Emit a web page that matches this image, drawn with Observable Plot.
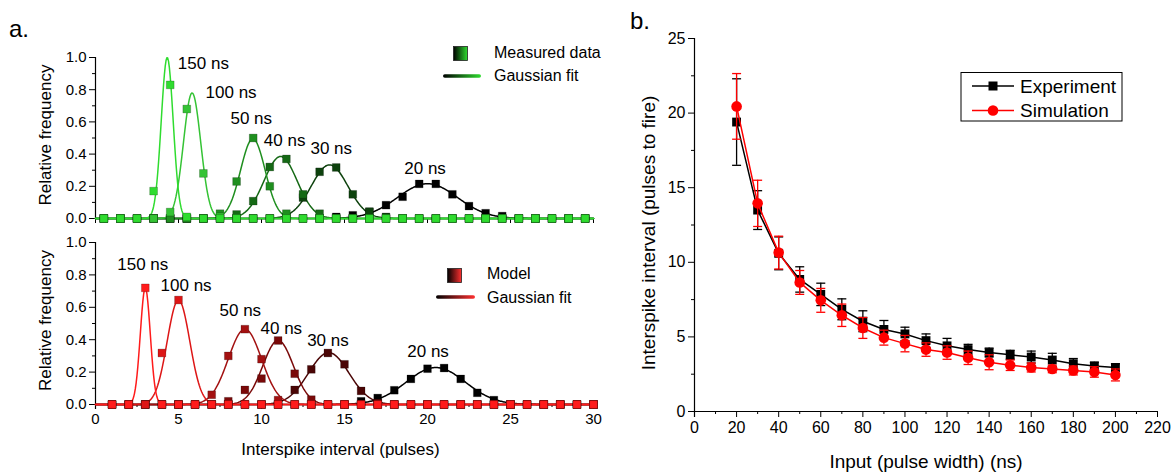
<!DOCTYPE html>
<html><head><meta charset="utf-8">
<script src="https://cdn.jsdelivr.net/npm/d3@7"></script>
<script src="https://cdn.jsdelivr.net/npm/@observablehq/plot@0.6"></script>
<style>
body{margin:0;background:#fff;font-family:"Liberation Sans",Arial,sans-serif;}
#wrap{position:relative;width:1173px;height:472px;overflow:hidden;background:#fff}
.pl{position:absolute;font-family:"Liberation Sans",Arial,sans-serif;color:#000}
</style></head><body><div id="wrap"></div>
<script>
// ---------- DATA ----------
const seriesNames = ["20 ns","30 ns","40 ns","50 ns","100 ns","150 ns"];

// panel a (top): measured histograms, bin centres
const measuredBins = [0.5,1.5,2.5,3.5,4.5,5.5,6.5,7.5,8.5,9.5,10.5,11.5,12.5,13.5,14.5,15.5,16.5,17.5,18.5,19.5,20.5,21.5,22.5,23.5,24.5,25.5,26.5,27.5,28.5,29.5];
const measured20  = [0,0,0,0,0,0,0,0,0,0, 0,0,0,0,0.01,0.02,0.04,0.083,0.135,0.215, 0.215,0.15,0.077,0.033,0.015,0,0,0,0,0];
const measured30  = [0,0,0,0,0,0,0,0,0,0, 0,0.01,0.13,0.29,0.317,0.15,0.043,0.01,0,0, 0,0,0,0,0,0,0,0,0,0];
const measured40  = [0,0,0,0,0,0,0,0,0.025,0.108, 0.32,0.37,0.15,0.03,0,0,0,0,0,0, 0,0,0,0,0,0,0,0,0,0];
const measured50  = [0,0,0,0,0,0,0,0.03,0.23,0.5, 0.2,0.03,0,0,0,0,0,0,0,0, 0,0,0,0,0,0,0,0,0,0];
const measured100 = [0,0,0,0,0.04,0.68,0.28,0.01,0,0, 0,0,0,0,0,0,0,0,0,0, 0,0,0,0,0,0,0,0,0,0];
const measured150 = [0,0,0,0.17,0.83,0.01,0,0,0,0, 0,0,0,0,0,0,0,0,0,0, 0,0,0,0,0,0,0,0,0,0];
// Gaussian fit parameters (order of seriesNames)
const measuredFitCenter = [20.0, 14.1, 11.15, 9.48, 5.82, 4.32];
const measuredFitSigma  = [1.8, 1.1, 1.0, 0.74, 0.52, 0.36];
const measuredFitPeak   = [0.216, 0.333, 0.385, 0.495, 0.78, 1.0];

// panel a (bottom): model histograms
const modelBins = [1,2,3,4,5,6,7,8,9,10,11,12,13,14,15,16,17,18,19,20,21,22,23,24,25,26,27,28,29,30];
const model20  = [0,0,0,0,0,0,0,0,0,0, 0,0,0,0,0,0.02,0.04,0.088,0.158,0.221, 0.225,0.158,0.072,0.027,0,0,0,0,0,0];
const model30  = [0,0,0,0,0,0,0,0,0,0, 0,0.09,0.217,0.318,0.248,0.084,0.01,0,0,0, 0,0,0,0,0,0,0,0,0,0];
const model40  = [0,0,0,0,0,0,0,0.02,0.09,0.16, 0.395,0.19,0.03,0,0,0,0,0,0,0, 0,0,0,0,0,0,0,0,0,0];
const model50  = [0,0,0,0,0,0,0.06,0.3,0.465,0.28, 0.027,0,0,0,0,0,0,0,0,0, 0,0,0,0,0,0,0,0,0,0];
const model100 = [0,0,0,0.318,0.645,0,0,0,0,0, 0,0,0,0,0,0,0,0,0,0, 0,0,0,0,0,0,0,0,0,0];
const model150 = [0,0,0.72,0,0,0,0,0,0,0, 0,0,0,0,0,0,0,0,0,0, 0,0,0,0,0,0,0,0,0,0];
const modelFitCenter = [20.5, 14.05, 11.0, 9.0, 5.0, 3.0];
const modelFitSigma  = [1.78, 1.22, 0.92, 1.0, 0.68, 0.3];
const modelFitPeak   = [0.228, 0.32, 0.395, 0.465, 0.645, 0.72];

const freqTicks = [0, 0.2, 0.4, 0.6, 0.8, 1.0];
const freqMinorTicks = [0.1, 0.3, 0.5, 0.7, 0.9];
const pulseTicks = [0, 5, 10, 15, 20, 25, 30];
const pulseMinorTicks = [2.5, 7.5, 12.5, 17.5, 22.5, 27.5];

// panel b
const pulseWidth = [20,30,40,50,60,70,80,90,100,110,120,130,140,150,160,170,180,190,200];
const experiment    = [19.4,13.5,10.6,8.85,7.85,6.85,6.05,5.5,5.2,4.75,4.4,4.15,3.95,3.8,3.65,3.45,3.2,3.05,2.95];
const experimentErr = [2.9,1.3,1.1,0.85,0.75,0.7,0.7,0.6,0.45,0.45,0.5,0.35,0.3,0.3,0.4,0.45,0.35,0.25,0.25];
const simulation    = [20.45,13.95,10.65,8.65,7.45,6.45,5.6,4.95,4.55,4.15,3.95,3.6,3.3,3.1,2.95,2.85,2.75,2.65,2.45];
const simulationErr = [2.2,1.55,1.1,0.8,0.8,0.75,0.7,0.5,0.55,0.45,0.45,0.45,0.5,0.35,0.3,0.25,0.3,0.35,0.4];
const isiTicks = [0,5,10,15,20,25];
const isiMinorTicks = [2.5,7.5,12.5,17.5,22.5];
const widthTicks = [0,20,40,60,80,100,120,140,160,180,200,220];
const widthMinorTicks = [10,30,50,70,90,110,130,150,170,190,210];

// ---------- STYLE ----------
const FONT = '"Liberation Sans", Arial, sans-serif';
const greens = ["#000000","#0d420d","#156915","#1f8f1f","#35c335","#2fdc2f"];
const reds   = ["#000000","#4a0505","#7a0909","#a31111","#dd1616","#ff1b1b"];

const wrap = document.getElementById("wrap");
function place(el, left, top){ el.classList.add("pl"); el.style.left = left+"px"; el.style.top = top+"px"; wrap.appendChild(el); }

const fitGrid = d3.range(0, 30.0001, 0.05);

function histPanel(o){
  const rows = [];
  o.series.forEach((vals, k) => vals.forEach((v, i) => rows.push({s: seriesNames[k], x: o.bins[i], y: v})));
  const curves = [];
  seriesNames.forEach((s, k) => fitGrid.forEach(x => curves.push({s, x,
    y: o.peak[k] * Math.exp(-((x - o.center[k]) ** 2) / (2 * o.sigma[k] ** 2))})));
  const marks = [
    Plot.axisY({ticks: freqTicks, tickFormat: d => d.toFixed(1), tickSize: 6, tickPadding: 3, fontSize: 15, label: null}),
    Plot.axisY({ticks: freqMinorTicks, tickFormat: () => "", tickSize: 3, label: null}),
    Plot.axisX({ticks: pulseTicks, tickSize: 5, tickPadding: 4, fontSize: 15, label: null, tickFormat: o.xLabels ? d => String(d) : () => ""}),
    Plot.axisX({ticks: pulseMinorTicks, tickSize: 3, tickFormat: () => "", label: null}),
    Plot.ruleY([0], {stroke: "#000", strokeWidth: 1.2}),
    Plot.ruleX([0], {stroke: "#000", strokeWidth: 1.2, insetBottom: o.xLabels ? -5 : 0}),
    Plot.line(curves, {x: "x", y: "y", z: "s", stroke: "s", strokeWidth: 1.5}),
    Plot.dot(rows, {x: "x", y: "y", fill: "s", symbol: "square", r: 4.4, stroke: "#000", strokeOpacity: 0.35, strokeWidth: 0.6}),
    Plot.text(o.annot, {x: "x", y: "y", text: "t", textAnchor: "start", lineAnchor: "middle", fontSize: 17, fill: "#000"}),
    Plot.text(["Relative frequency"], {frameAnchor: "left", textAnchor: "middle", lineAnchor: "middle", dx: -50, dy: -3, rotate: -90, fontSize: 17, fill: "#000"})
  ];
  if (o.xLabels) marks.push(Plot.text(["Interspike interval (pulses)"], {frameAnchor: "bottom", textAnchor: "middle", lineAnchor: "middle", dx: -4, dy: 45, fontSize: 17, fill: "#000"}));
  return Plot.plot({
    width: 610, height: o.height,
    marginLeft: 95, marginRight: 17, marginTop: o.mt, marginBottom: o.mb,
    x: {domain: [0, 30]}, y: {domain: [0, 1]},
    color: {domain: seriesNames, range: o.colors},
    style: {fontFamily: FONT, fontSize: "15px", background: "none", overflow: "visible", color: "#000"},
    marks
  });
}

const topPlot = histPanel({
  bins: measuredBins,
  series: [measured20, measured30, measured40, measured50, measured100, measured150],
  center: measuredFitCenter, sigma: measuredFitSigma, peak: measuredFitPeak,
  colors: greens, height: 230, mt: 57, mb: 12, xLabels: false,
  annot: [{t:"20 ns",x:18.6,y:0.31},{t:"30 ns",x:12.95,y:0.433},{t:"40 ns",x:10.14,y:0.485},{t:"50 ns",x:8.13,y:0.62},{t:"100 ns",x:6.63,y:0.78},{t:"150 ns",x:4.96,y:0.96}]
});
place(topPlot, 0, 0);

const botPlot = histPanel({
  bins: modelBins,
  series: [model20, model30, model40, model50, model100, model150],
  center: modelFitCenter, sigma: modelFitSigma, peak: modelFitPeak,
  colors: reds, height: 242, mt: 12, mb: 68, xLabels: true,
  annot: [{t:"20 ns",x:18.78,y:0.328},{t:"30 ns",x:12.75,y:0.395},{t:"40 ns",x:9.94,y:0.467},{t:"50 ns",x:7.47,y:0.58},{t:"100 ns",x:3.92,y:0.734},{t:"150 ns",x:1.31,y:0.863}]
});
place(botPlot, 0, 230);

// panel b
const exp = pulseWidth.map((x, i) => ({x, y: experiment[i], e: experimentErr[i]}));
const sim = pulseWidth.map((x, i) => ({x, y: simulation[i], e: simulationErr[i]}));
const cap = {draw(ctx, size){ const w = Math.sqrt(size / Math.PI); ctx.moveTo(-w, 0); ctx.lineTo(w, 0); }};
function errMarks(d, color){
  return [
    Plot.ruleX(d, {x: "x", y1: r => r.y - r.e, y2: r => r.y + r.e, stroke: color, strokeWidth: 1.3}),
    Plot.dot(d, {x: "x", y: r => r.y - r.e, symbol: cap, r: 4.5, fill: "none", stroke: color, strokeWidth: 1.3}),
    Plot.dot(d, {x: "x", y: r => r.y + r.e, symbol: cap, r: 4.5, fill: "none", stroke: color, strokeWidth: 1.3})
  ];
}
const rightPlot = Plot.plot({
  width: 563, height: 472,
  marginLeft: 84, marginRight: 16, marginTop: 38, marginBottom: 61,
  x: {domain: [0, 220]}, y: {domain: [0, 25]},
  style: {fontFamily: FONT, fontSize: "16px", background: "none", overflow: "visible", color: "#000"},
  marks: [
    Plot.axisY({ticks: isiTicks, tickSize: 6, tickPadding: 3, fontSize: 16, label: null}),
    Plot.axisY({ticks: isiMinorTicks, tickSize: 3, tickFormat: () => "", label: null}),
    Plot.axisX({ticks: widthTicks, tickSize: 6, tickPadding: 4, fontSize: 16, label: null}),
    Plot.axisX({ticks: widthMinorTicks, tickSize: 3, tickFormat: () => "", label: null}),
    Plot.ruleY([0], {stroke: "#000", strokeWidth: 1.2}),
    Plot.ruleX([0], {stroke: "#000", strokeWidth: 1.2, insetBottom: -6}),
    Plot.line(exp, {x: "x", y: "y", stroke: "#000", strokeWidth: 1.5}),
    ...errMarks(exp, "#000"),
    Plot.dot(exp, {x: "x", y: "y", symbol: "square", r: 5, fill: "#000"}),
    Plot.line(sim, {x: "x", y: "y", stroke: "#ff0000", strokeWidth: 1.5}),
    ...errMarks(sim, "#ff0000"),
    Plot.dot(sim, {x: "x", y: "y", symbol: "circle", r: 5.3, fill: "#ff0000"}),
    Plot.text(["Interspike interval (pulses to fire)"], {frameAnchor: "left", textAnchor: "middle", lineAnchor: "middle", dx: -46, dy: 8, rotate: -90, fontSize: 19, fill: "#000"}),
    Plot.text(["Input (pulse width) (ns)"], {frameAnchor: "bottom", textAnchor: "middle", lineAnchor: "middle", dy: 50, fontSize: 19, fill: "#000"})
  ]
});
place(rightPlot, 610, 0);

// legends and panel letters
const ov = document.createElement("div");
ov.innerHTML = `
<svg width="1173" height="472" style="position:absolute;left:0;top:0;font-family:${FONT}">
 <defs>
  <linearGradient id="gG" x1="0" x2="1" y1="0" y2="0"><stop offset="0" stop-color="#000"/><stop offset="1" stop-color="#2fdc2f"/></linearGradient>
  <linearGradient id="gR" x1="0" x2="1" y1="0" y2="0"><stop offset="0" stop-color="#000"/><stop offset="1" stop-color="#ff3030"/></linearGradient>
 </defs>
 <text x="9" y="37" font-size="24">a.</text>
 <text x="630" y="29" font-size="24">b.</text>
 <rect x="453.5" y="46.5" width="14" height="14" fill="url(#gG)" stroke="#222" stroke-width="0.8"/>
 <text x="494" y="52" font-size="16" dominant-baseline="central">Measured data</text>
 <rect x="443" y="74.2" width="38" height="3.6" rx="1.8" fill="url(#gG)"/>
 <text x="494" y="75" font-size="16" dominant-baseline="central">Gaussian fit</text>
 <rect x="447.5" y="268.5" width="14" height="14" fill="url(#gR)" stroke="#222" stroke-width="0.8"/>
 <text x="487" y="273" font-size="16" dominant-baseline="central">Model</text>
 <rect x="436" y="295.2" width="39" height="3.6" rx="1.8" fill="url(#gR)"/>
 <text x="487" y="297" font-size="16" dominant-baseline="central">Gaussian fit</text>
 <rect x="961" y="72.5" width="161" height="48.5" fill="#fff" stroke="#000" stroke-width="1"/>
 <line x1="972" x2="1014" y1="86" y2="86" stroke="#000" stroke-width="1.5"/>
 <rect x="988.5" y="81.5" width="9" height="9" fill="#000"/>
 <text x="1020" y="86" font-size="19" dominant-baseline="central">Experiment</text>
 <line x1="972" x2="1014" y1="110.5" y2="110.5" stroke="#ff0000" stroke-width="1.5"/>
 <circle cx="993" cy="110.5" r="5.3" fill="#ff0000"/>
 <text x="1020" y="110.5" font-size="19" dominant-baseline="central">Simulation</text>
</svg>`;
ov.style.position = "absolute"; ov.style.left = "0px"; ov.style.top = "0px"; ov.style.pointerEvents = "none";
wrap.appendChild(ov);
</script></body></html>
